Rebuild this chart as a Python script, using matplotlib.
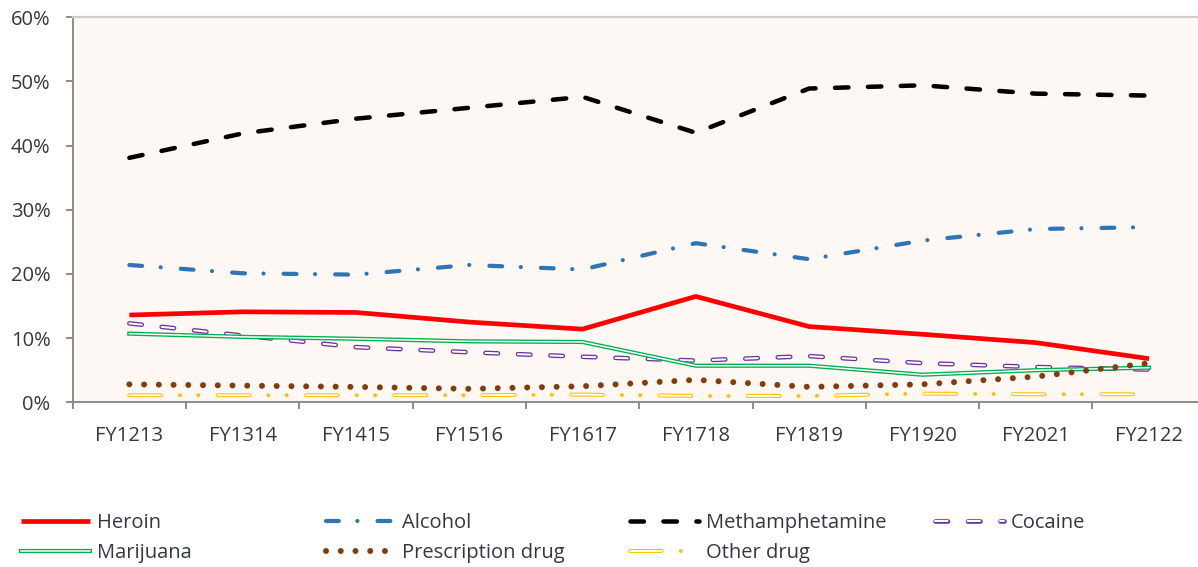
import matplotlib
matplotlib.use("Agg")
import matplotlib.pyplot as plt

plt.rcParams['font.family'] = ['Open Sans', 'DejaVu Sans']
plt.rcParams['lines.scale_dashes'] = False

# data (percent of cases)
years = ['FY1213', 'FY1314', 'FY1415', 'FY1516', 'FY1617',
         'FY1718', 'FY1819', 'FY1920', 'FY2021', 'FY2122']
heroin = [13.6, 14.1, 14.0, 12.5, 11.4, 16.5, 11.8, 10.6, 9.3, 6.8]
alcohol = [21.4, 20.1, 19.9, 21.4, 20.7, 24.8, 22.3, 25.2, 27.0, 27.3]
meth = [38.1, 41.9, 44.2, 45.9, 47.6, 42.0, 48.9, 49.4, 48.1, 47.8]
cocaine = [12.3, 10.4, 8.6, 7.8, 7.1, 6.5, 7.2, 6.1, 5.5, 5.1]
marijuana = [10.7, 10.2, 9.9, 9.5, 9.4, 5.7, 5.7, 4.3, 5.0, 5.4]
prescription = [2.8, 2.6, 2.4, 2.1, 2.5, 3.5, 2.4, 2.8, 4.0, 6.1]
other = [1.1, 1.1, 1.1, 1.1, 1.2, 1.0, 1.0, 1.35, 1.25, 1.25]

yticks = [0, 10, 20, 30, 40, 50, 60]

W, H = 1198, 567
fig = plt.figure(figsize=(W / 100, H / 100), dpi=100)
# plot area runs a bit past the right edge of the picture, like the original crop
ax = fig.add_axes([72.7 / W, (H - 402.3) / H, 1133 / W, 385 / H])
ax.set_facecolor('#FDF8F4')

x = list(range(len(years)))

def px(v):
    # pixels -> points at 100 dpi
    return v * 0.72

# heroin: plain thick red
h_line, = ax.plot(x, heroin, color='#FF0000', lw=px(4.7), solid_capstyle='butt')

# alcohol: long dash dot
a_line, = ax.plot(x, alcohol, color='#2E75B6', lw=px(4.2),
                  ls=(0, (9.2, 13.4, 0.01, 14.5)), dash_capstyle='round')

# methamphetamine: long dash
m_line, = ax.plot(x, meth, color='#000000', lw=px(4.5),
                  ls=(0, (9.7, 14.0)), dash_capstyle='round')

# cocaine: hollow purple dashes (outline + white inside)
coc_pat = (0, (9.0, 14.4))
c_out, = ax.plot(x, cocaine, color='#7030A0', lw=px(4.6), ls=coc_pat, dash_capstyle='round')
c_in, = ax.plot(x, cocaine, color='white', lw=px(2.0), ls=coc_pat, dash_capstyle='round')

# marijuana: double green line
mj_out, = ax.plot(x, marijuana, color='#00B050', lw=px(4.2))
mj_in, = ax.plot(x, marijuana, color='white', lw=px(1.5))

# prescription: round dots
p_line, = ax.plot(x, prescription, color='#843C0C', lw=px(6.0),
                  ls=(0, (0.01, 10.6)), dash_capstyle='round')

# other drug: hollow dash + two dots
o_out, = ax.plot(x, other, color='#FFC000', lw=px(4.0),
                 ls=(0, (22.8, 13.7, 0.01, 13.2, 0.01, 13.9)), dash_capstyle='round')
o_in, = ax.plot(x, other, color='white', lw=px(1.8),
                ls=(0, (22.8, 40.8)), dash_capstyle='round')

ax.set_xlim(-0.5, len(years) - 0.5)
ax.set_ylim(0, 60)
ax.set_yticks(yticks)
ax.set_yticklabels([str(t) + '%' for t in yticks])
ax.set_xticks(x)
ax.set_xticklabels(years)
ax.set_xticks([i - 0.5 for i in range(len(years) + 1)], minor=True)

tc = '#333840'
ax.tick_params(axis='x', which='major', length=0, pad=17, labelsize=14.5, labelcolor=tc)
ax.tick_params(axis='x', which='minor', length=5, width=1.4, color='#8C8C8C', direction='out')
ax.tick_params(axis='y', length=5, width=1.4, color='#8C8C8C', pad=11,
               labelsize=14.5, labelcolor=tc)

for s in ['left', 'bottom']:
    ax.spines[s].set_color('#8C8C8C')
    ax.spines[s].set_linewidth(1.4)
ax.spines['top'].set_color('#D0CCCA')
ax.spines['top'].set_linewidth(1.6)
ax.spines['right'].set_visible(False)

# legend laid out in fixed columns like the original
columns = [
    (21, [(h_line, 'Heroin'), ((mj_out, mj_in), 'Marijuana')]),
    (326, [(a_line, 'Alcohol'), (p_line, 'Prescription drug')]),
    (630, [(m_line, 'Methamphetamine'), ((o_out, o_in), 'Other drug')]),
    (935, [((c_out, c_in), 'Cocaine')]),
]
for xpos, items in columns:
    fig.legend([it[0] for it in items], [it[1] for it in items],
               loc='upper left', bbox_to_anchor=(xpos / W, (H - 513) / H),
               frameon=False, borderpad=0, borderaxespad=0,
               handlelength=3.43, handletextpad=0.34, labelspacing=0.48,
               prop={'size': 14.5}, labelcolor=tc)

fig.savefig('out.png', dpi=100)
